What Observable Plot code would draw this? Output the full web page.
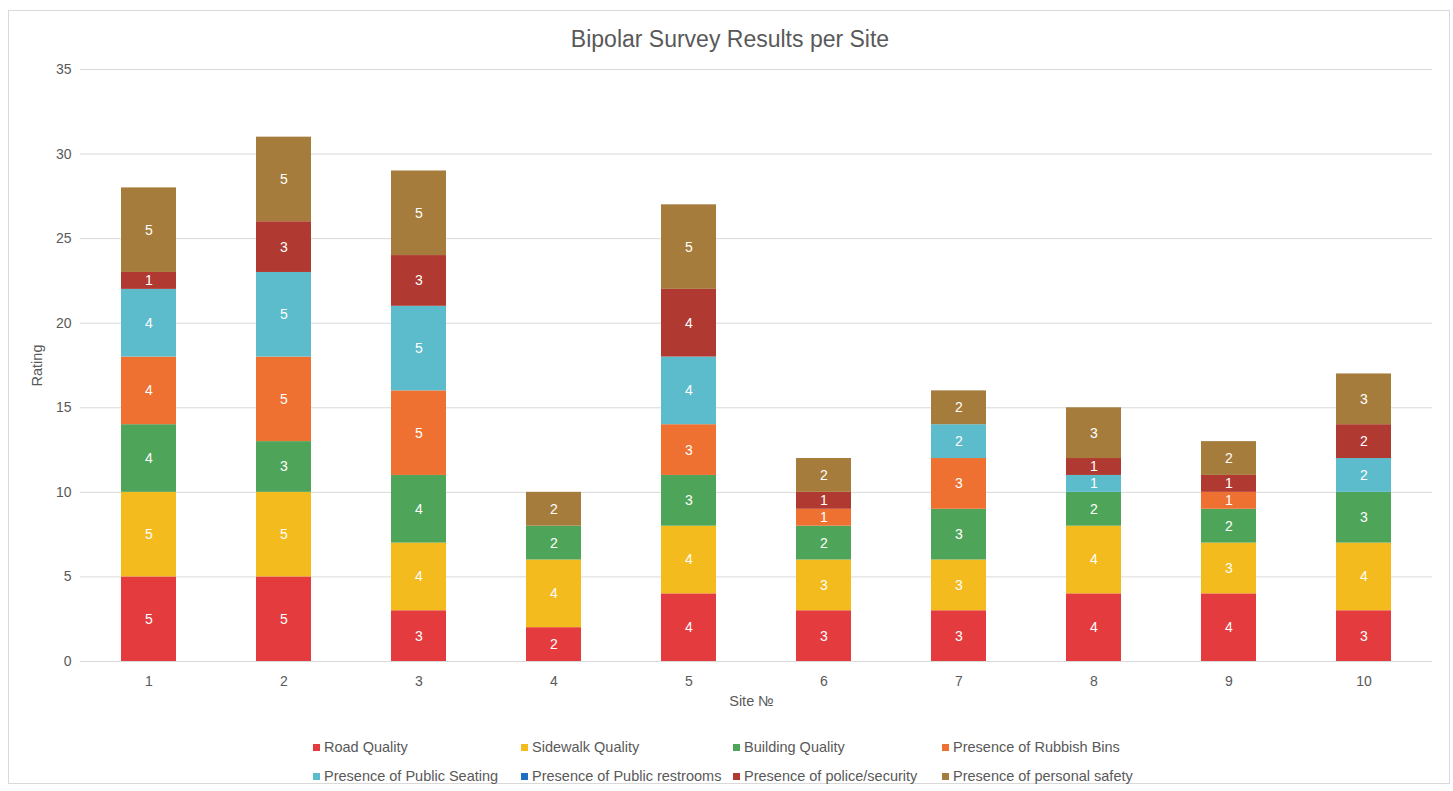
<!DOCTYPE html>
<html>
<head>
<meta charset="utf-8">
<script src="https://cdn.jsdelivr.net/npm/d3@7"></script>
<script src="https://cdn.jsdelivr.net/npm/@observablehq/plot@0.6"></script>
<style>
  html, body { margin: 0; padding: 0; background: #fff; }
  body { font-family: "Liberation Sans", Arial, sans-serif; color: #595959; }
  #frame { position: absolute; left: 8px; top: 10px; width: 1442px; height: 774px; border: 1px solid #d9d9d9; box-sizing: border-box; }
  #title { position: absolute; left: 0; width: 1460px; top: 26px; text-align: center; font-size: 23px; color: #595959; }
  #chart { position: absolute; left: 0; top: 60px; }
  #legend { position: absolute; left: 313px; top: 739px; display: grid; grid-template-columns: 208px 212px 209px 220px; row-gap: 13px; font-size: 14.5px; color: #595959; }
  .item { display: flex; align-items: center; white-space: nowrap; }
  .sw { width: 7px; height: 7px; margin-right: 4px; display: inline-block; }
</style>
</head>
<body>
<div id="frame"></div>
<div id="title">Bipolar Survey Results per Site</div>
<div id="chart"></div>
<div id="legend"></div>
<script>
// Sites and rating categories
const sites = ["1", "2", "3", "4", "5", "6", "7", "8", "9", "10"];
const series = [
  "Road Quality",
  "Sidewalk Quality",
  "Building Quality",
  "Presence of Rubbish Bins",
  "Presence of Public Seating",
  "Presence of Public restrooms",
  "Presence of police/security",
  "Presence of personal safety"
];
const colors = ["#e43c3e", "#f4bb1e", "#4ea55a", "#ee7131", "#5cbccb", "#1f6fc0", "#b03a31", "#a67c3d"];

// Ratings per category, one value per site
const roadQuality      = [5, 5, 3, 2, 4, 3, 3, 4, 4, 3];
const sidewalkQuality  = [5, 5, 4, 4, 4, 3, 3, 4, 3, 4];
const buildingQuality  = [4, 3, 4, 2, 3, 2, 3, 2, 2, 3];
const rubbishBins      = [4, 5, 5, 0, 3, 1, 3, 0, 1, 0];
const publicSeating    = [4, 5, 5, 0, 4, 0, 2, 1, 0, 2];
const publicRestrooms  = [0, 0, 0, 0, 0, 0, 0, 0, 0, 0];
const policeSecurity   = [1, 3, 3, 0, 4, 1, 0, 1, 1, 2];
const personalSafety   = [5, 5, 5, 2, 5, 2, 2, 3, 2, 3];

const values = [roadQuality, sidewalkQuality, buildingQuality, rubbishBins,
                publicSeating, publicRestrooms, policeSecurity, personalSafety];

const yTicks = [0, 5, 10, 15, 20, 25, 30, 35];

// Long-format rows in stacking order; empty segments are left out
const rows = [];
sites.forEach((site, i) => {
  series.forEach((s, j) => {
    const v = values[j][i];
    if (v > 0) rows.push({site, series: s, value: v});
  });
});

const plot = Plot.plot({
  width: 1453,
  height: 660,
  marginLeft: 80,
  marginRight: 21,
  marginTop: 9,
  marginBottom: 59,
  style: {fontFamily: "'Liberation Sans', Arial, sans-serif", fontSize: "14px", color: "#595959", background: "transparent"},
  x: {domain: sites, paddingInner: 0.59, paddingOuter: 0.295, label: null},
  y: {domain: [0, 35], label: null},
  color: {domain: series, range: colors},
  marks: [
    Plot.ruleY(yTicks, {stroke: "#d9d9d9", strokeWidth: 1}),
    Plot.axisY({ticks: yTicks, tickSize: 0, tickPadding: 9, label: null, fill: "#595959", fontSize: 14}),
    Plot.axisX({tickSize: 0, tickPadding: 15, label: null, fill: "#595959", fontSize: 14}),
    Plot.text(["Rating"], {frameAnchor: "left", textAnchor: "middle", dx: -43, rotate: -90, fill: "#595959", fontSize: 14.5}),
    Plot.text(["Site №"], {frameAnchor: "bottom", dy: 44, dx: -5, fill: "#595959", fontSize: 14.5}),
    Plot.barY(rows, {x: "site", y: "value", fill: "series"}),
    Plot.text(rows, Plot.stackY({x: "site", y: "value", text: "value", fill: "white", fontSize: 14}))
  ]
});
document.getElementById("chart").appendChild(plot);

// Legend in two rows of four
const legend = document.getElementById("legend");
series.forEach((s, j) => {
  const item = document.createElement("div");
  item.className = "item";
  const sw = document.createElement("span");
  sw.className = "sw";
  sw.style.background = colors[j];
  item.appendChild(sw);
  item.appendChild(document.createTextNode(s));
  legend.appendChild(item);
});
</script>
</body>
</html>
